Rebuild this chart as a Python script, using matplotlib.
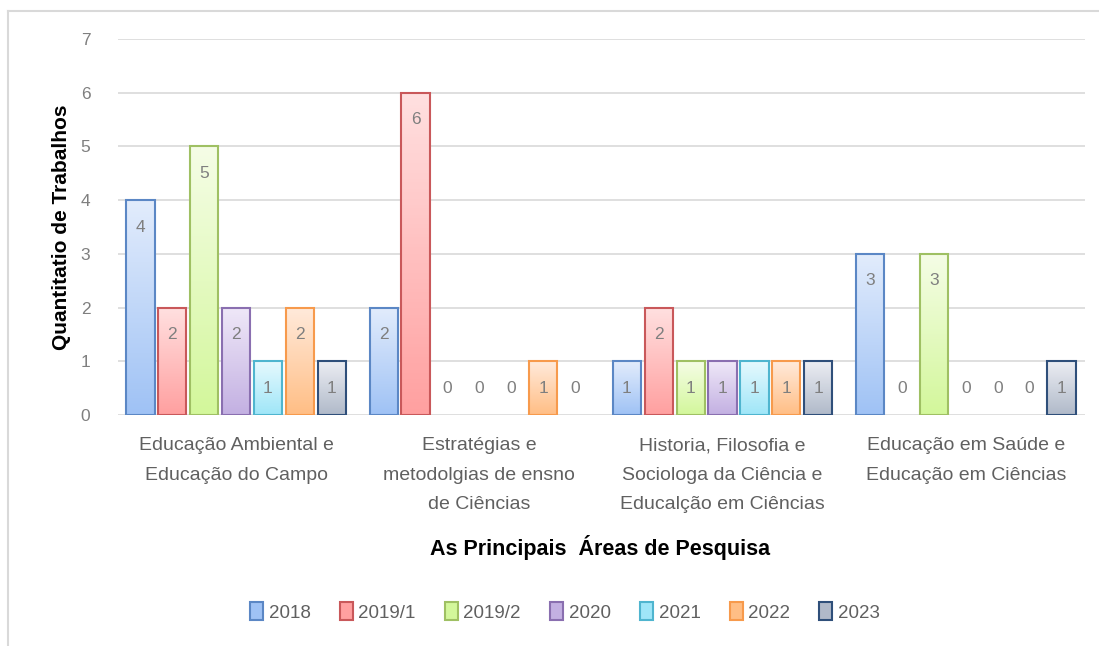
import numpy as np
import matplotlib
matplotlib.use("Agg")
import matplotlib.pyplot as plt
from matplotlib.colors import LinearSegmentedColormap
from matplotlib.patches import Rectangle

categories = [
    "Educação Ambiental e\nEducação do Campo",
    "Estratégias e\nmetodolgias de ensno\nde Ciências",
    "Historia, Filosofia e\nSociologa da Ciência e\nEducalção em Ciências",
    "Educação em Saúde e\nEducação em Ciências",
]
years = ["2018", "2019/1", "2019/2", "2020", "2021", "2022", "2023"]
v2018 = [4, 2, 1, 3]
v2019_1 = [2, 6, 2, 0]
v2019_2 = [5, 0, 1, 3]
v2020 = [2, 0, 1, 0]
v2021 = [1, 0, 1, 0]
v2022 = [2, 1, 1, 0]
v2023 = [1, 0, 1, 1]
series = [v2018, v2019_1, v2019_2, v2020, v2021, v2022, v2023]

edge_colors = ["#5b87c5", "#c9585a", "#9fc063", "#8a6fb0", "#4fb5cf", "#f79a4c", "#2f4f7a"]
top_colors = ["#e2ecfc", "#ffe0e0", "#f5fde6", "#efe8f8", "#e6f9fe", "#ffeadb", "#eceef3"]
bot_colors = ["#9fc2f5", "#ffa0a0", "#d3f79b", "#c3b0e2", "#9fe6f8", "#ffbe85", "#b0b9c9"]

fig = plt.figure(figsize=(10.99, 6.46), dpi=100)
ax = fig.add_axes([0.1074, 0.3576, 0.8799, 0.582])

# outer frame (top and left edges visible)
fig.add_artist(plt.Line2D([8 / 1099, 1.0], [1 - 11 / 646] * 2, color="#d9d9d9", lw=1.5))
fig.add_artist(plt.Line2D([8 / 1099] * 2, [0, 1 - 11 / 646], color="#d9d9d9", lw=1.5))

n = len(years)
pitch = 0.131
width = 0.116
x = np.arange(len(categories))
grad = np.linspace(0, 1, 100).reshape(-1, 1)

for i, (vals, ec, tc, bc) in enumerate(zip(series, edge_colors, top_colors, bot_colors)):
    cmap = LinearSegmentedColormap.from_list("g%d" % i, [bc, tc])
    pos = x + (i - (n - 1) / 2) * pitch
    bars = ax.bar(pos, vals, width, facecolor="none", edgecolor=ec, linewidth=1.5,
                  zorder=3)
    for b, v in zip(bars, vals):
        if v > 0:
            im = ax.imshow(grad, cmap=cmap, aspect="auto", origin="lower",
                           extent=[b.get_x(), b.get_x() + width, 0, v], zorder=2)
            clip = Rectangle((b.get_x(), 0), width, v, transform=ax.transData)
            im.set_clip_path(clip)
        else:
            b.set_linewidth(0)
        ty = v - 0.5 if v > 0 else 0.5
        ax.text(b.get_x() + width / 2, ty, str(v), ha="center", va="center",
                color="#7f7f7f", fontsize=12.5, family="Liberation Sans", zorder=4)

handles = [Rectangle((0, 0), 1, 1, facecolor=c, edgecolor=ec, linewidth=1.5)
           for ec, c in zip(edge_colors, bot_colors)]

ax.set_xlim(-0.485, 3.49)
ax.set_ylim(0, 7)
ax.set_yticks(range(0, 8))
ax.yaxis.grid(True, color="#dcdcdc", linewidth=1.3, zorder=0)
ax.set_axisbelow(True)
for s in ax.spines.values():
    s.set_visible(False)
ax.tick_params(axis="both", length=0, colors="#7f7f7f", labelsize=12.5)
ax.tick_params(axis="y", pad=20)
ax.tick_params(axis="x", pad=16)
ax.set_xticks(x)
ax.set_xticklabels(categories, family="Liberation Sans", fontsize=14,
                   linespacing=1.95, color="#606060")
for lbl in ax.get_yticklabels():
    lbl.set_family("Liberation Sans")

ax.set_ylabel("Quantitatio de Trabalhos", fontsize=15, fontweight="bold",
              family="Liberation Sans", color="black", labelpad=7)
fig.text(0.546, 1 - 547 / 646, "As Principais  Áreas de Pesquisa", ha="center",
         va="center", fontsize=15.5, fontweight="bold", family="Liberation Sans")

fig.legend(handles, years, loc="center", bbox_to_anchor=(0.514, 1 - 612 / 646),
           ncol=7, frameon=False, handlelength=0.7, handleheight=1.1,
           handletextpad=0.3, columnspacing=1.55,
           prop={"family": "Liberation Sans", "size": 13.5}, labelcolor="#606060")

fig.savefig("out.png", dpi=100)
